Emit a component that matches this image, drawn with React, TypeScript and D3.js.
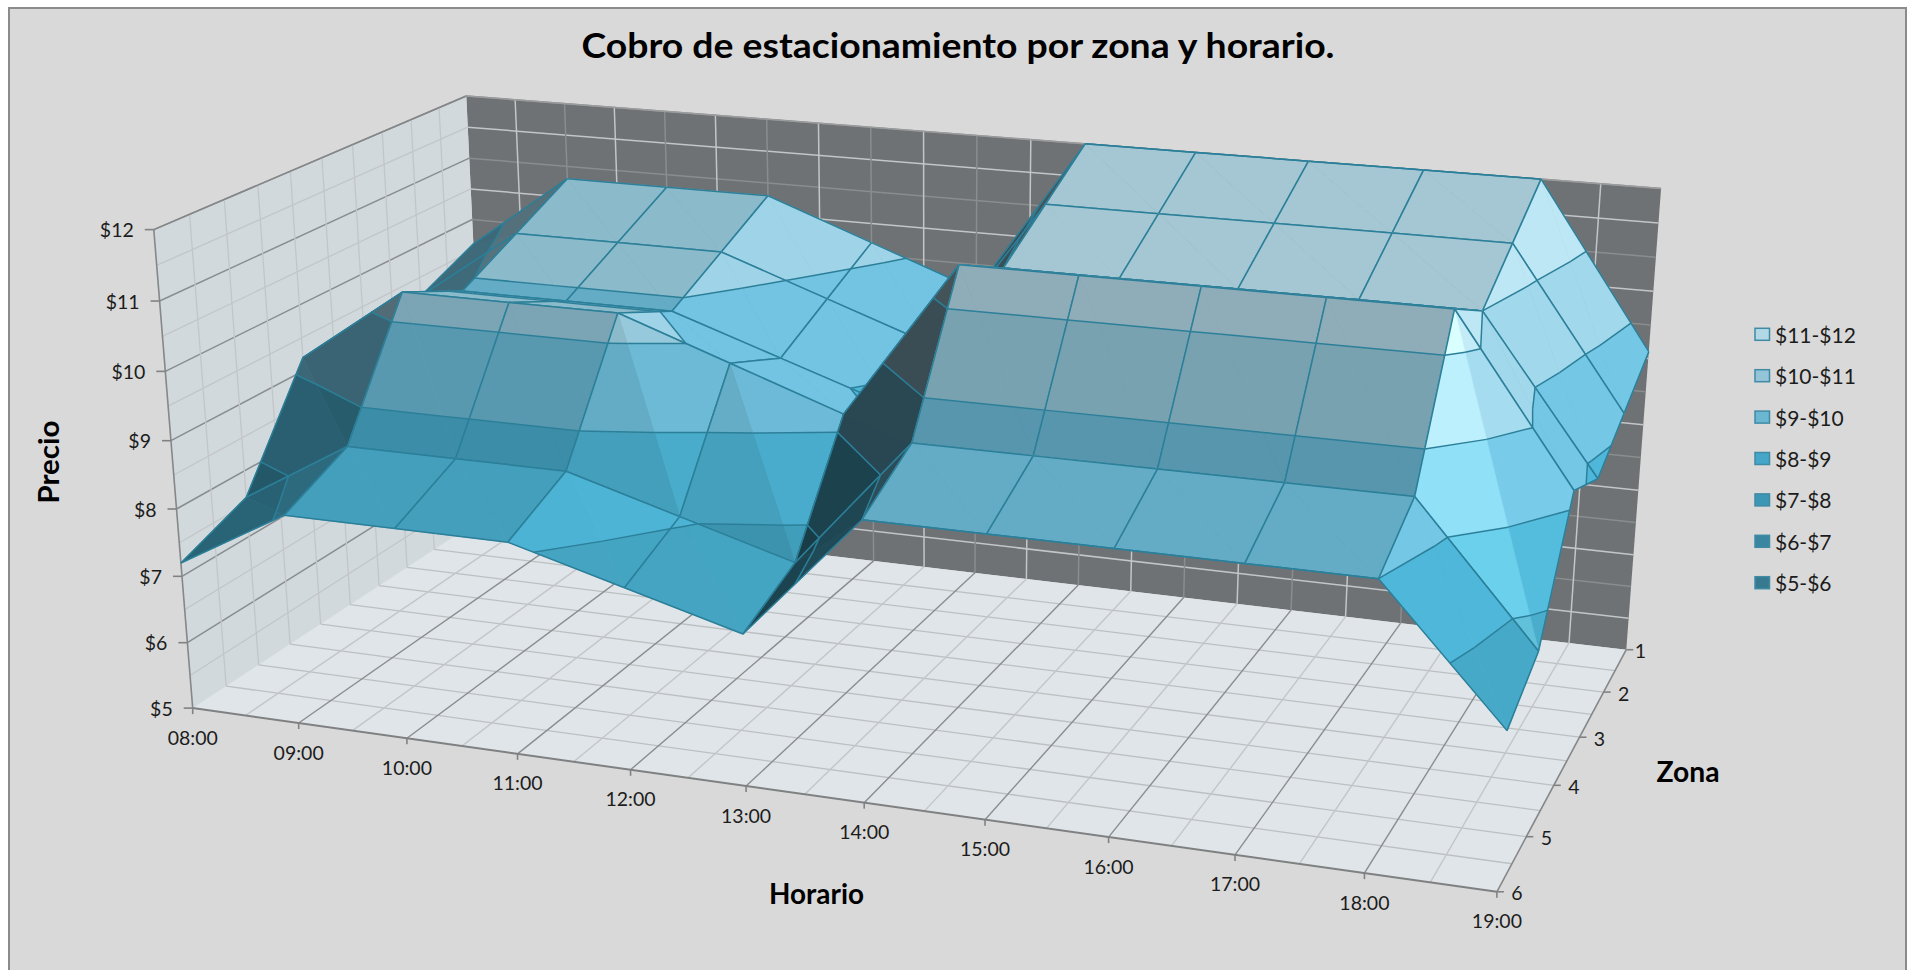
import React from "react";
import * as d3 from "d3";

// Parking fee surface: price per hour of day (columns) and zone (rows).
const hours = ["08:00","09:00","10:00","11:00","12:00","13:00","14:00","15:00","16:00","17:00","18:00","19:00"];
const zones = [1, 2, 3, 4, 5, 6];
const priceTicks = [5, 6, 7, 8, 9, 10, 11, 12];

const zone1 = [9.6, 10.8, 10.8, 10.8, 10.2, 9.6, 12, 12, 12, 12, 12, 9.6];
const zone2 = [9.2, 10.35, 10.35, 10.35, 9.775, 9.2, 11.5, 11.5, 11.5, 11.5, 11.5, 9.2];
const zone3 = [8.8, 9.9, 9.9, 9.9, 9.35, 8.8, 11, 11, 11, 11, 11, 8.8];
const zone4 = [9.2, 10.35, 10.35, 10.35, 9.775, 9.2, 11.5, 11.5, 11.5, 11.5, 11.5, 9.2];
const zone5 = [7.6, 8.55, 8.55, 8.55, 8.075, 7.6, 9.5, 9.5, 9.5, 9.5, 9.5, 7.6];
const zone6 = [7.2, 8.1, 8.1, 8.1, 7.65, 7.2, 9, 9, 9, 9, 9, 7.2];
const prices = [zone1, zone2, zone3, zone4, zone5, zone6];

const legendLabels = ["$11-$12", "$10-$11", "$9-$10", "$8-$9", "$7-$8", "$6-$7", "$5-$6"];
const legendFills = ["#b3d8e5", "#94c4d7", "#6bb7d1", "#44a7c7", "#3e96b5", "#3a86a0", "#377a8f"];
// Surface colour of each price band, lowest band first, for a level facet.
const bandBase: [number, number, number][] = [
  [50, 122, 142], [55, 135, 155], [60, 146, 172], [68, 159, 188], [100, 172, 198], [139, 186, 203], [164, 199, 211],
];

// 3x4 camera: (hour, zone, price), each normalised to 0..1, to screen pixels (x and y in thousands).
const camera = [
  [1.131221, 0.370232, -0.046592, 0.192708],
  [0.080633, -0.111897, -0.489935, 0.708101],
  [-0.115548, 0.157284, -0.049873, 1],
];
const hourScale = d3.scaleLinear().domain([0, hours.length - 1]).range([0, 1]);
const zoneScale = d3.scaleLinear().domain([6, 1]).range([0, 1]);
const priceScale = d3.scaleLinear().domain([5, 12]).range([0, 1]);

type P3 = [number, number, number];
const depth = ([u, v, w]: P3) => camera[2][0] * u + camera[2][1] * v + camera[2][2] * w + camera[2][3];
const project = (p: P3): [number, number] => {
  const [u, v, w] = p;
  const d = depth(p);
  return [
    (1000 * (camera[0][0] * u + camera[0][1] * v + camera[0][2] * w + camera[0][3])) / d,
    (1000 * (camera[1][0] * u + camera[1][1] * v + camera[1][2] * w + camera[1][3])) / d,
  ];
};
const line = d3.line();
const seg = (a: P3, b: P3) => line([project(a), project(b)]) as string;
const poly = (ps: P3[]) => (line(ps.map(project)) as string) + "Z";

// Surface vertex: normalised position plus its price.
type Vtx = { p: P3; val: number };
const vertex = (h: number, zIdx: number): Vtx => {
  const val = prices[zIdx][h];
  return { p: [hourScale(h), zoneScale(zones[zIdx]), priceScale(val)], val };
};
const mix = (a: Vtx, b: Vtx, val: number): Vtx => {
  const t = (val - a.val) / (b.val - a.val);
  return { p: [0, 1, 2].map((i) => a.p[i] + (b.p[i] - a.p[i]) * t) as P3, val };
};

// Keep the part of a facet at or above (sign 1) or at or below (sign -1) a price level.
function clip(pts: Vtx[], level: number, sign: number): Vtx[] {
  const out: Vtx[] = [];
  pts.forEach((a, i) => {
    const b = pts[(i + 1) % pts.length];
    const ai = (a.val - level) * sign >= 0;
    const bi = (b.val - level) * sign >= 0;
    if (ai) out.push(a);
    if (ai !== bi) out.push(mix(a, b, level));
  });
  return out;
}

// Facet brightness, from the price slope across hours (gu) and towards the back (gz).
const slopeLight = d3.scaleLinear().domain([-2.4, -1.8, -0.5, 0, 1, 2]).range([1.16, 1.16, 1.14, 1, 0.65, 0.42]).clamp(true);
const tiltLight = d3.scaleLinear().domain([0.5, 2]).range([1, 0.87]).clamp(true);
function facetColor(band: number, gu: number, gz: number, right: boolean) {
  const base = bandBase[band];
  const tiltWeight = Math.max(0, Math.min(1, gu + 1)) * (gu > 0 ? Math.max(0, 1 - gu / 2) : 1);
  let f = slopeLight(gu) * (1 + (tiltLight(gz) - 1) * tiltWeight);
  // On steep walls that also slope across hours, the two facets of a cell catch the light differently.
  if (gz > 1 && gu > -1 && Math.abs(gu) > 0.1) f *= right ? 0.99 : 0.94;
  const glow = Math.exp(-((gu + 1.9) ** 2 + (gz - 2) ** 2) / 0.18);
  const spec = [28, 24, 18];
  const c = base.map((b, i) => Math.min(255, Math.round(b * f + spec[i] * glow)));
  return `rgb(${c[0]},${c[1]},${c[2]})`;
}

type Facet = { d: string; fill: string };
type Cell = { depth: number; facets: Facet[]; lines: string[] };

function buildCell(h: number, z: number): Cell {
  const a = vertex(h, z), b = vertex(h + 1, z), c = vertex(h + 1, z + 1), e = vertex(h, z + 1);
  const tris: { pts: Vtx[]; gu: number; gz: number; right: boolean }[] = [
    { pts: [a, e, c], gu: c.val - e.val, gz: a.val - e.val, right: false },
    { pts: [a, b, c], gu: b.val - a.val, gz: b.val - c.val, right: true },
  ];
  const triDepth = (t: { pts: Vtx[] }) => d3.mean(t.pts, (q) => depth(q.p)) as number;
  tris.sort((s, t) => triDepth(t) - triDepth(s));
  const facets: Facet[] = [];
  const lines: string[] = [];
  for (const t of tris) {
    d3.range(5, 12).forEach((low, band) => {
      const part = clip(clip(t.pts, low, 1), low + 1, -1);
      if (part.length >= 3) facets.push({ d: poly(part.map((q) => q.p)), fill: facetColor(band, t.gu, t.gz, t.right) });
    });
    for (const level of d3.range(5, 13)) {
      const hits: P3[] = [];
      t.pts.forEach((s, i) => {
        const n = t.pts[(i + 1) % 3];
        if ((s.val - level) * (n.val - level) < 0) hits.push(mix(s, n, level).p);
        else if (s.val === level) hits.push(s.p);
      });
      if (hits.length >= 2) lines.push(seg(hits[0], hits[1]));
    }
  }
  lines.push(seg(a.p, b.p), seg(b.p, c.p), seg(c.p, e.p), seg(e.p, a.p));
  return { depth: d3.mean([a, b, c, e], (q) => depth(q.p)) as number, facets, lines };
}

const cells = d3.range(zones.length - 1)
  .flatMap((z) => d3.range(hours.length - 1).map((h) => buildCell(h, z)))
  .sort((s, t) => t.depth - s.depth);

const FONT = "Lato, 'Open Sans', sans-serif";
const halfSteps = (n: number) => d3.range(0, n + 1).map((i) => i / n);
const COLORS = { major: "#8a8d8e", minor: "#c3c6c8", row: "#bcc0c2", edge: "#858789" };

function Walls() {
  const uSteps = halfSteps(22), vSteps = halfSteps(10), wSteps = halfSteps(14);
  return (
    <g fill="none">
      <path d={poly([[0, 1, 0], [1, 1, 0], [1, 1, 1], [0, 1, 1]])} fill="#6e7274" stroke="none" />
      <path d={poly([[0, 0, 0], [0, 1, 0], [0, 1, 1], [0, 0, 1]])} fill="#d1d9dd" stroke="none" />
      <path d={poly([[0, 0, 0], [1, 0, 0], [1, 1, 0], [0, 1, 0]])} fill="#dfe5e8" stroke="none" />
      {/* back wall */}
      {wSteps.slice(1).map((w, i) => (
        <path key={"bw" + i} d={seg([0, 1, w], [1, 1, w])} stroke={(i + 1) % 2 ? COLORS.minor : COLORS.major} strokeWidth={1.5} />
      ))}
      {uSteps.slice(1, -1).map((u, i) => (
        <path key={"bu" + i} d={seg([u, 1, 0], [u, 1, 1])} stroke={(i + 1) % 2 ? COLORS.minor : COLORS.major} strokeWidth={1.5} />
      ))}
      {/* left wall */}
      {wSteps.slice(1).map((w, i) => (
        <path key={"lw" + i} d={seg([0, 0, w], [0, 1, w])} stroke={(i + 1) % 2 ? COLORS.minor : COLORS.major} strokeWidth={(i + 1) % 2 ? 1.3 : 1.5} />
      ))}
      {vSteps.slice(1, -1).map((v, i) => (
        <path key={"lv" + i} d={seg([0, v, 0], [0, v, 1])} stroke={COLORS.minor} strokeWidth={1.3} />
      ))}
      {/* floor */}
      {vSteps.slice(1, -1).map((v, i) => (
        <path key={"fv" + i} d={seg([0, v, 0], [1, v, 0])} stroke={COLORS.row} strokeWidth={1.3} />
      ))}
      {uSteps.slice(1, -1).map((u, i) => (
        <path key={"fu" + i} d={seg([u, 0, 0], [u, 1, 0])} stroke={(i + 1) % 2 ? COLORS.minor : COLORS.major} strokeWidth={1.4} />
      ))}
      <path d={seg([0, 0, 0], [1, 0, 0])} stroke="#7f8081" strokeWidth={2} />
      <path d={seg([1, 0, 0], [1, 1, 0])} stroke={COLORS.edge} strokeWidth={1.6} />
      <path d={seg([0, 0, 0], [0, 0, 1])} stroke={COLORS.edge} strokeWidth={1.6} />
      <path d={seg([0, 0, 1], [0, 1, 1])} stroke={COLORS.edge} strokeWidth={1.6} />
      <path d={seg([0, 1, 1], [1, 1, 1])} stroke="#9a9c9d" strokeWidth={1.4} />
    </g>
  );
}

function Axes() {
  const tick = "#808284";
  const text = { fontFamily: FONT, fontSize: 19.5, fill: "#1c1c1c", dominantBaseline: "central" as const };
  return (
    <g>
      {priceTicks.map((d) => {
        const [x, y] = project([0, 0, priceScale(d)]);
        return (
          <g key={d}>
            <line x1={x - 9} x2={x} y1={y} y2={y} stroke={tick} strokeWidth={1.6} />
            <text x={x - 20} y={y} textAnchor="end" {...text}>{"$" + d}</text>
          </g>
        );
      })}
      {hours.map((d, i) => {
        const [x, y] = project([hourScale(i), 0, 0]);
        return (
          <g key={d}>
            <line x1={x} x2={x} y1={y} y2={y + 6} stroke={tick} strokeWidth={1.6} />
            <text x={x} y={y + 29} textAnchor="middle" {...text}>{d}</text>
          </g>
        );
      })}
      {zones.map((d) => {
        const [x, y] = project([1, zoneScale(d), 0]);
        return (
          <g key={d}>
            <line x1={x} x2={x + 7} y1={y} y2={y} stroke={tick} strokeWidth={1.6} />
            <text x={x + (d === 1 ? 14 : 20)} y={y + 1} textAnchor="middle" {...text}>{d}</text>
          </g>
        );
      })}
    </g>
  );
}

export default function App() {
  const titleStyle = { fontFamily: FONT, fontWeight: 700, fill: "#000" };
  return (
    <svg width={1908} height={970} style={{ position: "fixed", left: 0, top: 0 }}>
      <rect x={0} y={0} width={1908} height={970} fill="#fff" />
      <rect x={9} y={8} width={1897} height={980} fill="#d9d9d9" stroke="#8b8b8b" strokeWidth={2} />
      <Walls />
      {cells.map((c, i) => (
        <g key={i}>
          {c.facets.map((f, j) => (
            <path key={j} d={f.d} fill={f.fill} stroke={f.fill} strokeWidth={0.7} />
          ))}
          {c.lines.map((d, j) => (
            <path key={j} d={d} fill="none" stroke="#2b7f99" strokeWidth={1.5} />
          ))}
        </g>
      ))}
      <Axes />
      <text x={958} y={44} textAnchor="middle" dominantBaseline="central" fontSize={34} textLength={753} lengthAdjust="spacingAndGlyphs" {...titleStyle}>
        Cobro de estacionamiento por zona y horario.
      </text>
      <text x={816.5} y={893} textAnchor="middle" dominantBaseline="central" fontSize={28} textLength={95} lengthAdjust="spacingAndGlyphs" {...titleStyle}>Horario</text>
      <text x={1688} y={771} textAnchor="middle" dominantBaseline="central" fontSize={28} textLength={63} lengthAdjust="spacingAndGlyphs" {...titleStyle}>Zona</text>
      <text transform="translate(48,462) rotate(-90)" textAnchor="middle" dominantBaseline="central" fontSize={28} textLength={83} lengthAdjust="spacingAndGlyphs" {...titleStyle}>Precio</text>
      {legendLabels.map((d, i) => {
        const y = 334.3 + i * 41.4;
        return (
          <g key={d}>
            <rect x={1755} y={y - 6} width={14.5} height={12} fill={legendFills[i]} stroke="#3f8ba5" strokeWidth={1.5} />
            <text x={1775} y={y} dominantBaseline="central" fontFamily={FONT} fontSize={21} fill="#1c1c1c">{d}</text>
          </g>
        );
      })}
    </svg>
  );
}
